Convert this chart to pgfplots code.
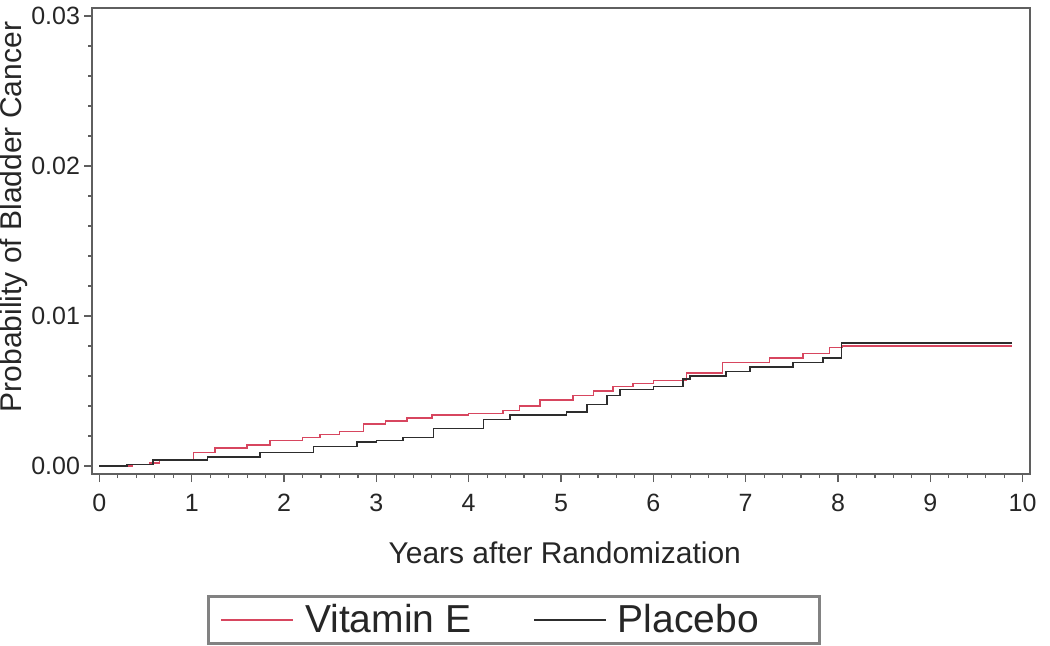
\documentclass[border=0pt]{standalone}
\usepackage{pgfplots}
\pgfplotsset{compat=1.18}
\usepackage{fontspec}
\setmainfont{Liberation Sans}
\definecolor{vitE}{RGB}{215,70,95}
\definecolor{plac}{RGB}{45,45,45}
\definecolor{axgray}{RGB}{95,95,95}
\definecolor{leggray}{RGB}{130,130,130}
\begin{document}
\begin{tikzpicture}
\begin{axis}[
  scale only axis,
  width=469pt, height=233pt,
  xmin=-0.08, xmax=10.08,
  ymin=-0.00053, ymax=0.03053,
  xtick={0,1,...,10},
  ytick={0,0.01,0.02,0.03},
  yticklabels={0.00,0.01,0.02,0.03},
  minor x tick num=4,
  minor y tick num=4,
  tick align=outside,
  xtick pos=bottom, ytick pos=left,
  major tick length=4pt, minor tick length=2pt,
  axis line style={axgray, line width=0.8pt},
  every tick/.style={axgray, line width=0.6pt},
  /pgf/number format/assume math mode=true,
  scaled y ticks=false,
  tick label style={font=\fontsize{12.5}{14}\selectfont, text=black!85},
  xticklabel style={yshift=-2.5pt},
  yticklabel style={xshift=1.5pt},
  xlabel={Years after Randomization},
  ylabel={Probability of Bladder Cancer},
  label style={font=\fontsize{15}{17}\selectfont, text=black!85},
  xlabel style={at={(axis description cs:0.504,-0.1695)}, anchor=center},
  ylabel style={at={(axis description cs:-0.0832,0.5515)}, anchor=center, rotate=0},
  legend columns=2,
  legend style={at={(axis description cs:0.1226,-0.2596)}, anchor=north west,
    draw=leggray, line width=1.5pt, font=\fontsize{19.5}{21}\selectfont,
    text=black!85, inner xsep=6pt, inner ysep=2pt,
    /tikz/every even column/.append style={column sep=29pt}},
  legend image code/.code={\draw[#1, line width=0.8pt] (0pt,0pt) -- (36pt,0pt); \path (39.5pt,0pt);},
]
\addplot[const plot, vitE, line width=0.8pt] coordinates {
(0,0) (0.35,0.0001) (0.55,0.0002) (0.65,0.0004) (1.02,0.0009) (1.25,0.0012)
(1.6,0.0014) (1.85,0.0017) (2.2,0.0019) (2.39,0.0021) (2.6,0.0023) (2.86,0.0028)
(3.1,0.0030) (3.33,0.0032) (3.6,0.0034) (4.0,0.0035) (4.37,0.0037) (4.55,0.0040)
(4.77,0.0044) (5.13,0.0047) (5.35,0.0050) (5.56,0.0053) (5.78,0.0055) (6.0,0.0057)
(6.36,0.0062) (6.75,0.0069) (7.26,0.0072) (7.62,0.0075) (7.91,0.0079) (8.05,0.0080)
(9.89,0.0080)};
\addlegendentry{Vitamin E}
\addplot[const plot, plac, line width=0.8pt] coordinates {
(0,0) (0.3,0.0001) (0.58,0.0004) (1.17,0.0006) (1.74,0.0009) (2.32,0.0013)
(2.79,0.0016) (3.0,0.0017) (3.29,0.0019) (3.62,0.0025) (4.16,0.0031) (4.45,0.0034)
(5.06,0.0036) (5.28,0.0041) (5.5,0.0047) (5.64,0.0051) (6.0,0.0053) (6.32,0.0058)
(6.4,0.0060) (6.79,0.0063) (7.05,0.0066) (7.51,0.0069) (7.84,0.0072) (8.04,0.0082)
(9.89,0.0082)};
\addlegendentry{\makebox[93pt][l]{Placebo}}
\coordinate (bbl) at (rel axis cs:-0.0981,-0.367);
\coordinate (btr) at (rel axis cs:1.0213,1.0172);
\end{axis}
\pgfresetboundingbox
\path[use as bounding box] (bbl) rectangle (btr);
\end{tikzpicture}
\end{document}
